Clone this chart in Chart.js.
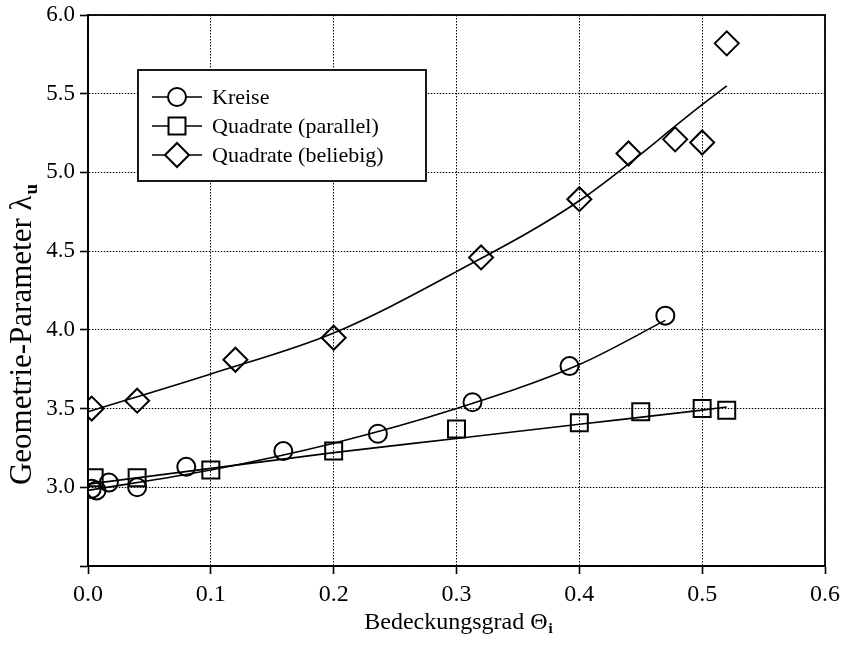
<!DOCTYPE html>
<html>
<head>
<meta charset="utf-8">
<script src="https://cdn.jsdelivr.net/npm/chart.js@4"></script>
<style>
  html, body { margin: 0; padding: 0; background: #fff; }
  #wrap { width: 841px; height: 648px; }
</style>
</head>
<body>
<div id="wrap"><canvas id="lambdaChart" width="841" height="648"></canvas></div>
<script>
// Messpunkte
const kreiseX = [0.003, 0.007, 0.017, 0.04, 0.08, 0.159, 0.236, 0.313, 0.392, 0.47];
const kreiseY = [2.99, 2.98, 3.03, 3.00, 3.13, 3.23, 3.34, 3.54, 3.77, 4.09];
const parallelX = [0.005, 0.04, 0.1, 0.2, 0.3, 0.4, 0.45, 0.5, 0.52];
const parallelY = [3.06, 3.06, 3.11, 3.23, 3.37, 3.41, 3.48, 3.50, 3.49];
const beliebigX = [0.003, 0.04, 0.12, 0.2, 0.32, 0.4, 0.44, 0.478, 0.5, 0.52];
const beliebigY = [3.50, 3.55, 3.81, 3.95, 4.46, 4.83, 5.12, 5.21, 5.19, 5.82];

// Ausgleichskurven
const fitKreiseX = [0, 0.1, 0.2, 0.3, 0.4, 0.47];
const fitKreiseY = [2.98, 3.11, 3.28, 3.50, 3.78, 4.06];
const fitParallelX = [0, 0.1, 0.2, 0.3, 0.4, 0.5, 0.52];
const fitParallelY = [3.02, 3.12, 3.22, 3.31, 3.40, 3.49, 3.51];
const fitBeliebigX = [0, 0.1, 0.2, 0.3, 0.4, 0.5, 0.52];
const fitBeliebigY = [3.48, 3.72, 3.98, 4.37, 4.82, 5.43, 5.55];

const xTicks = [0, 0.1, 0.2, 0.3, 0.4, 0.5, 0.6];
const yTicks = [2.5, 3.0, 3.5, 4.0, 4.5, 5.0, 5.5, 6.0];

const serif = "'Liberation Serif', 'Times New Roman', serif";

function pts(xs, ys) {
    return xs.map((x, i) => ({ x: x, y: ys[i] }));
}

function markerSet(label, xs, ys, style, r) {
    return {
        type: 'scatter',
        label: label,
        data: pts(xs, ys),
        pointStyle: style,
        pointRadius: r,
        pointHoverRadius: r,
        pointBorderWidth: 2,
        pointBackgroundColor: 'rgba(0,0,0,0)',
        borderColor: '#000',
        showLine: false
    };
}

function fitSet(xs, ys) {
    return {
        type: 'line',
        label: '',
        data: pts(xs, ys),
        borderColor: '#000',
        borderWidth: 1.6,
        pointRadius: 0,
        fill: false,
        cubicInterpolationMode: 'monotone'
    };
}

// Text mit tiefgestelltem Zeichen, zentriert um (0,0)
function subText(c, main, sub, size) {
    c.font = size + 'px ' + serif;
    const w1 = c.measureText(main).width;
    c.font = 'bold ' + Math.round(size * 0.62) + 'px ' + serif;
    const w2 = c.measureText(sub).width;
    const x0 = -(w1 + w2) / 2;
    c.textAlign = 'left';
    c.textBaseline = 'alphabetic';
    c.font = size + 'px ' + serif;
    c.fillText(main, x0, 0);
    c.font = 'bold ' + Math.round(size * 0.62) + 'px ' + serif;
    c.fillText(sub, x0 + w1 + 1, size * 0.18);
}

// Rahmen um den Plotbereich
const frame = {
    id: 'frame',
    beforeDatasetsDraw(chart) {
        const a = chart.chartArea, c = chart.ctx;
        c.save();
        c.strokeStyle = '#000';
        c.lineWidth = 1.8;
        c.strokeRect(a.left, a.top, a.right - a.left, a.bottom - a.top);
        c.restore();
    }
};

// Achsentitel
const axisTitles = {
    id: 'axisTitles',
    afterDraw(chart) {
        const c = chart.ctx;
        c.save();
        c.fillStyle = '#000';
        c.translate(458, 629);
        subText(c, 'Bedeckungsgrad \u0398', 'i', 24);
        c.restore();
        c.save();
        c.fillStyle = '#000';
        c.translate(31, 335);
        c.rotate(-Math.PI / 2);
        subText(c, 'Geometrie-Parameter \u03BB', 'u', 31);
        c.restore();
    }
};

// Legende als Kasten im Diagramm
const boxLegend = {
    id: 'boxLegend',
    afterDatasetsDraw(chart) {
        const c = chart.ctx;
        const entries = chart.data.datasets.filter(d => d.type === 'scatter');
        c.save();
        c.fillStyle = '#fff';
        c.fillRect(138, 70, 288, 111);
        c.strokeStyle = '#000';
        c.lineWidth = 1.8;
        c.strokeRect(138, 70, 288, 111);
        entries.forEach((d, i) => {
            const y = 97 + i * 29;
            c.strokeStyle = '#000';
            c.lineWidth = 1.6;
            c.beginPath();
            c.moveTo(152, y);
            c.lineTo(202, y);
            c.stroke();
            c.lineWidth = 2;
            c.fillStyle = '#fff';
            Chart.helpers.drawPoint(c, { pointStyle: d.pointStyle, radius: d.pointRadius, rotation: 0, borderWidth: 2 }, 177, y);
            c.fillStyle = '#000';
            c.font = '22px ' + serif;
            c.textAlign = 'left';
            c.textBaseline = 'middle';
            c.fillText(d.label, 212, y + 1);
        });
        c.restore();
    }
};

const ctx = document.getElementById('lambdaChart').getContext('2d');

new Chart(ctx, {
    data: {
        datasets: [
            fitSet(fitKreiseX, fitKreiseY),
            fitSet(fitParallelX, fitParallelY),
            fitSet(fitBeliebigX, fitBeliebigY),
            markerSet('Kreise', kreiseX, kreiseY, 'circle', 9),
            markerSet('Quadrate (parallel)', parallelX, parallelY, 'rect', 12),
            markerSet('Quadrate (beliebig)', beliebigX, beliebigY, 'rectRot', 12)
        ]
    },
    options: {
        responsive: false,
        animation: false,
        layout: { padding: { top: 15, right: 16, left: 0, bottom: 0 } },
        plugins: {
            legend: { display: false },
            tooltip: { enabled: false }
        },
        scales: {
            x: {
                type: 'linear',
                min: 0,
                max: 0.6,
                afterBuildTicks: s => { s.ticks = xTicks.map(v => ({ value: v })); },
                afterFit: s => { s.height = 82; s.paddingLeft = 0; s.paddingRight = 0; },
                ticks: {
                    color: '#000',
                    font: { family: serif, size: 24 },
                    padding: 6,
                    maxRotation: 0,
                    callback: v => v.toFixed(1)
                },
                grid: { color: '#000', lineWidth: 1, tickLength: 8, tickColor: '#000', tickWidth: 1.6 },
                border: { display: true, color: '#000', width: 1.8, dash: [1.5, 1.5] }
            },
            y: {
                type: 'linear',
                min: 2.5,
                max: 6.0,
                afterBuildTicks: s => { s.ticks = yTicks.map(v => ({ value: v })); },
                afterFit: s => { s.width = 88; s.paddingTop = 0; s.paddingBottom = 0; },
                ticks: {
                    color: '#000',
                    font: { family: serif, size: 23 },
                    padding: 5,
                    callback: v => (v === 2.5 ? '' : v.toFixed(1))
                },
                grid: { color: '#000', lineWidth: 1, tickLength: 8, tickColor: '#000', tickWidth: 1.6 },
                border: { display: true, color: '#000', width: 1.8, dash: [1.5, 1.5] }
            }
        }
    },
    plugins: [frame, boxLegend, axisTitles]
});
</script>
</body>
</html>
